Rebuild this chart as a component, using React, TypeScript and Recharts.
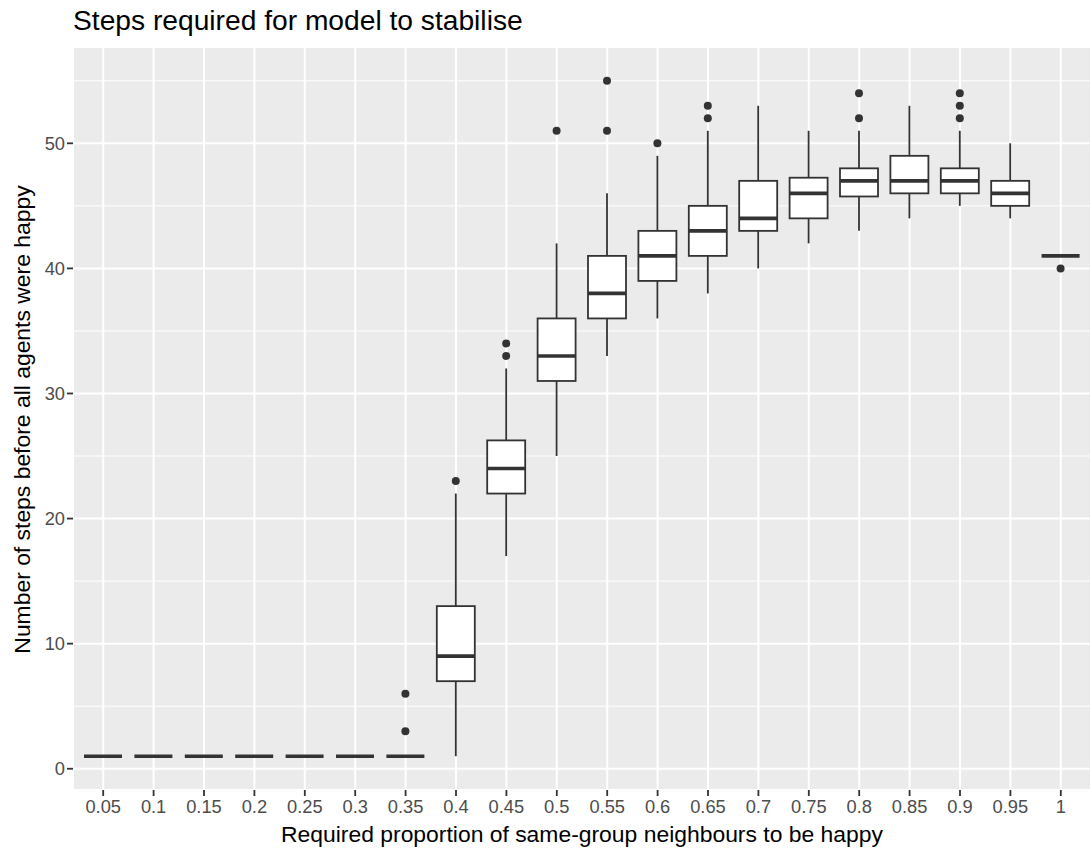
import React from 'react';
import { ComposedChart, Bar, XAxis, YAxis, CartesianGrid } from 'recharts';

// proporção exigida (categorias do eixo x)
const categorias = ['0.05', '0.1', '0.15', '0.2', '0.25', '0.3', '0.35', '0.4', '0.45', '0.5', '0.55', '0.6', '0.65', '0.7', '0.75', '0.8', '0.85', '0.9', '0.95', '1'];
// estatísticas do boxplot
const bigodeMin = [1, 1, 1, 1, 1, 1, 1, 1, 17, 25, 33, 36, 38, 40, 42, 43, 44, 45, 44, 41];
const quartil1 = [1, 1, 1, 1, 1, 1, 1, 7, 22, 31, 36, 39, 41, 43, 44, 45.75, 46, 46, 45, 41];
const mediana = [1, 1, 1, 1, 1, 1, 1, 9, 24, 33, 38, 41, 43, 44, 46, 47, 47, 47, 46, 41];
const quartil3 = [1, 1, 1, 1, 1, 1, 1, 13, 26.25, 36, 41, 43, 45, 47, 47.25, 48, 49, 48, 47, 41];
const bigodeMax = [1, 1, 1, 1, 1, 1, 1, 22, 32, 42, 46, 49, 51, 53, 51, 51, 53, 51, 50, 41];
const outliers: number[][] = [[], [], [], [], [], [], [3, 6], [23], [33, 34], [51], [51, 55], [50], [52, 53], [], [], [52, 54], [], [52, 53, 54], [], [40]];

const ticksY = [0, 10, 20, 30, 40, 50];
const linhasMenores = [5, 15, 25, 35, 45, 55];

const dados = categorias.map((cat, i) => ({
  cat,
  lo: bigodeMin[i],
  q1: quartil1[i],
  med: mediana[i],
  q3: quartil3[i],
  hi: bigodeMax[i],
  out: outliers[i],
  topo: Math.max(bigodeMax[i], ...outliers[i]),
}));

const FONTE = '"Liberation Sans", Arial, sans-serif';
const COR = '#333333';

// desenha o box inteiro a partir da barra [0, topo] que o recharts posiciona
const BoxShape = (props: any) => {
  const { x, y, width, height, payload } = props;
  const base = y + height;
  const py = (v: number) => base - (v / payload.topo) * height;
  const cx = x + width / 2;
  return (
    <g>
      {payload.hi > payload.q3 && <line x1={cx} x2={cx} y1={py(payload.hi)} y2={py(payload.q3)} stroke={COR} strokeWidth={1.8} />}
      {payload.q1 > payload.lo && <line x1={cx} x2={cx} y1={py(payload.q1)} y2={py(payload.lo)} stroke={COR} strokeWidth={1.8} />}
      {payload.q3 > payload.q1 && (
        <rect x={x} y={py(payload.q3)} width={width} height={py(payload.q1) - py(payload.q3)} fill="#ffffff" stroke={COR} strokeWidth={1.8} />
      )}
      <line x1={x} x2={x + width} y1={py(payload.med)} y2={py(payload.med)} stroke={COR} strokeWidth={3.6} />
      {payload.out.map((o: number, k: number) => (
        <circle key={k} cx={cx} cy={py(o)} r={4} fill={COR} />
      ))}
    </g>
  );
};

export default function App() {
  return (
    <div style={{ position: 'absolute', left: 0, top: 0, width: 1092, height: 854, background: '#fff', fontFamily: FONTE }}>
      <div style={{ position: 'absolute', left: 73, top: 6, fontSize: 28.2, lineHeight: 1, color: '#000', whiteSpace: 'nowrap' }}>
        Steps required for model to stabilise
      </div>
      <ComposedChart width={1092} height={854} data={dados} margin={{ top: 47, right: 1, bottom: 0, left: 0 }} barSize={38}>
        <CartesianGrid stroke="#ffffff" strokeWidth={2} fill="#EBEBEB" fillOpacity={1} />
        <CartesianGrid stroke="#ffffff" strokeWidth={1} vertical={false} horizontalValues={linhasMenores} />
        <XAxis
          dataKey="cat"
          type="category"
          interval={0}
          height={64}
          padding={{ left: 5, right: 5 }}
          axisLine={false}
          tickSize={6}
          tickMargin={4}
          tickLine={{ stroke: COR, strokeWidth: 1.8 }}
          tick={{ fill: '#4D4D4D', fontSize: 18.3, fontFamily: FONTE }}
        />
        <YAxis
          type="number"
          domain={[-1.7, 57.7]}
          ticks={ticksY}
          width={73}
          axisLine={false}
          tickSize={6}
          tickMargin={2}
          tickLine={{ stroke: COR, strokeWidth: 1.8 }}
          tick={{ fill: '#4D4D4D', fontSize: 18.3, fontFamily: FONTE }}
        />
        <Bar dataKey={(d: any) => [0, d.topo]} shape={<BoxShape />} isAnimationActive={false} />
      </ComposedChart>
      <div style={{ position: 'absolute', left: 73, width: 1018, top: 823, fontSize: 22.9, lineHeight: 1, textAlign: 'center', color: '#000', whiteSpace: 'nowrap' }}>
        Required proportion of same-group neighbours to be happy
      </div>
      <div
        style={{
          position: 'absolute',
          left: 22 - 400,
          top: 419 - 11.5,
          width: 800,
          height: 23,
          fontSize: 22.9,
          lineHeight: 1,
          textAlign: 'center',
          color: '#000',
          whiteSpace: 'nowrap',
          transform: 'rotate(-90deg)',
        }}
      >
        Number of steps before all agents were happy
      </div>
    </div>
  );
}
